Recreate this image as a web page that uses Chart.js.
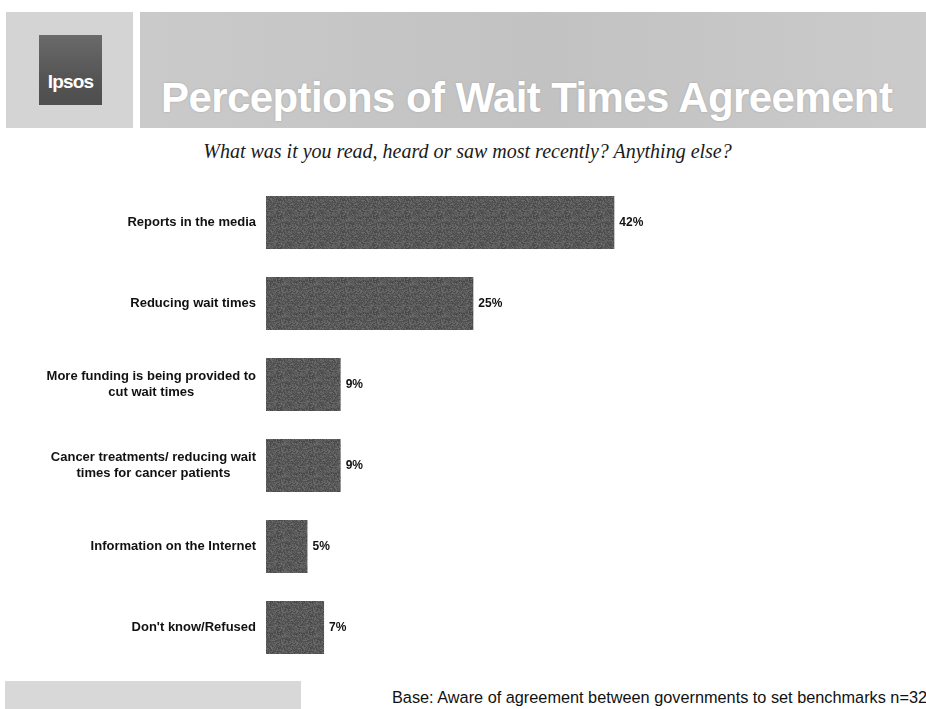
<!DOCTYPE html>
<html>
<head>
<meta charset="utf-8">
<script src="https://cdn.jsdelivr.net/npm/chart.js@4/dist/chart.umd.min.js"></script>
<style>
  html,body{margin:0;padding:0;background:#fff;}
  #wrap{position:relative;width:926px;height:709px;overflow:hidden;background:#fff;}
  #c{position:absolute;left:0;top:0;}
  .logoBox{position:absolute;left:6px;top:12px;width:127px;height:116px;background:#d4d4d4;}
  .logo{position:absolute;left:39px;top:35px;width:63px;height:70px;background:linear-gradient(180deg,#6a6a6a,#555 60%,#4e4e4e);}
  .logo span{position:absolute;left:0;right:0;bottom:12px;text-align:center;color:#fff;font:bold 19px "Liberation Sans",Arial,sans-serif;letter-spacing:-0.8px;}
  .band{position:absolute;left:140px;top:12px;width:800px;height:116px;background:linear-gradient(90deg,#cacaca,#c2c2c2 50%,#cbcbcb);}
  .title{position:absolute;left:161px;top:74px;color:#fff;font:bold 42px "Liberation Sans",Arial,sans-serif;white-space:nowrap;letter-spacing:-0.6px;text-shadow:0 0 2px #a0a0a0;}
  .sub{position:absolute;left:0;width:935px;top:140px;text-align:center;font:italic 20px "Liberation Serif","Times New Roman",serif;color:#1a1a1a;}
  .foot{position:absolute;left:5px;top:681px;width:296px;height:28px;background:#d8d8d8;}
  .base{position:absolute;left:392px;top:688px;font:16.3px "Liberation Sans",Arial,sans-serif;color:#111;white-space:nowrap;}
</style>
</head>
<body>
<div id="wrap">
  <div class="logoBox"></div>
  <div class="logo"><span>Ipsos</span></div>
  <div class="band"></div>
  <div class="title">Perceptions of Wait Times Agreement</div>
  <div class="sub">What was it you read, heard or saw most recently? Anything else?</div>
  <div class="foot"></div>
  <div class="base">Base: Aware of agreement between governments to set benchmarks n=328</div>
  <canvas id="c" width="926" height="709"></canvas>
</div>
<script>
const categories = [
  ["Reports in the media"],
  ["Reducing wait times"],
  ["More funding is being provided to", "cut wait times"],
  ["Cancer treatments/ reducing wait", "times for cancer patients"],
  ["Information on the Internet"],
  ["Don't know/Refused"]
];
const values = [42, 25, 9, 9, 5, 7];
const valueLabels = ["42%", "25%", "9%", "9%", "5%", "7%"];

// textured dark-grey fill for bars
function makePattern() {
  const p = document.createElement('canvas');
  p.width = 32; p.height = 32;
  const g = p.getContext('2d');
  g.fillStyle = '#575757';
  g.fillRect(0, 0, 32, 32);
  let s = 7;
  for (let y = 0; y < 32; y++) {
    for (let x = 0; x < 32; x++) {
      s = (s * 1103515245 + 12345) & 0x7fffffff;
      const v = 70 + ((s >> 16) % 40);
      g.fillStyle = 'rgb(' + v + ',' + v + ',' + v + ')';
      g.fillRect(x, y, 1, 1);
    }
  }
  return g.createPattern(p, 'repeat');
}
const ctx = document.getElementById('c').getContext('2d');
const barFill = makePattern();

const labelPlugin = {
  id: 'labels',
  afterDatasetsDraw(chart) {
    const c = chart.ctx;
    const yScale = chart.scales.y;
    const meta = chart.getDatasetMeta(0);
    c.save();
    c.fillStyle = '#111';
    c.textBaseline = 'middle';
    const lh = 16;
    chart.data.labels.forEach((lines, i) => {
      const y = yScale.getPixelForTick(i);
      c.font = 'bold 13px "Liberation Sans", Arial, sans-serif';
      const w = Math.max(...lines.map(l => c.measureText(l).width));
      const right = 256;
      const cx = right - w / 2;
      c.textAlign = 'center';
      lines.forEach((l, k) => {
        c.fillText(l, cx, y + (k - (lines.length - 1) / 2) * lh);
      });
      const bar = meta.data[i];
      c.font = 'bold 12px "Liberation Sans", Arial, sans-serif';
      c.textAlign = 'left';
      c.fillText(valueLabels[i], bar.x + 5, bar.y);
    });
    c.restore();
  }
};

new Chart(ctx, {
  type: 'bar',
  data: {
    labels: categories,
    datasets: [{
      data: values,
      backgroundColor: barFill,
      borderWidth: 0,
      barPercentage: 0.8,
      categoryPercentage: 0.82
    }]
  },
  options: {
    indexAxis: 'y',
    responsive: false,
    animation: false,
    devicePixelRatio: 1,
    layout: { padding: { top: 182, bottom: 41, left: 0, right: 38 } },
    plugins: { legend: { display: false }, tooltip: { enabled: false } },
    scales: {
      x: { min: 0, max: 75, display: false, grid: { display: false } },
      y: {
        grid: { display: false },
        border: { display: false },
        ticks: { display: false },
        afterFit(scale) { scale.width = 266; }
      }
    }
  },
  plugins: [labelPlugin]
});
</script>
</body>
</html>
